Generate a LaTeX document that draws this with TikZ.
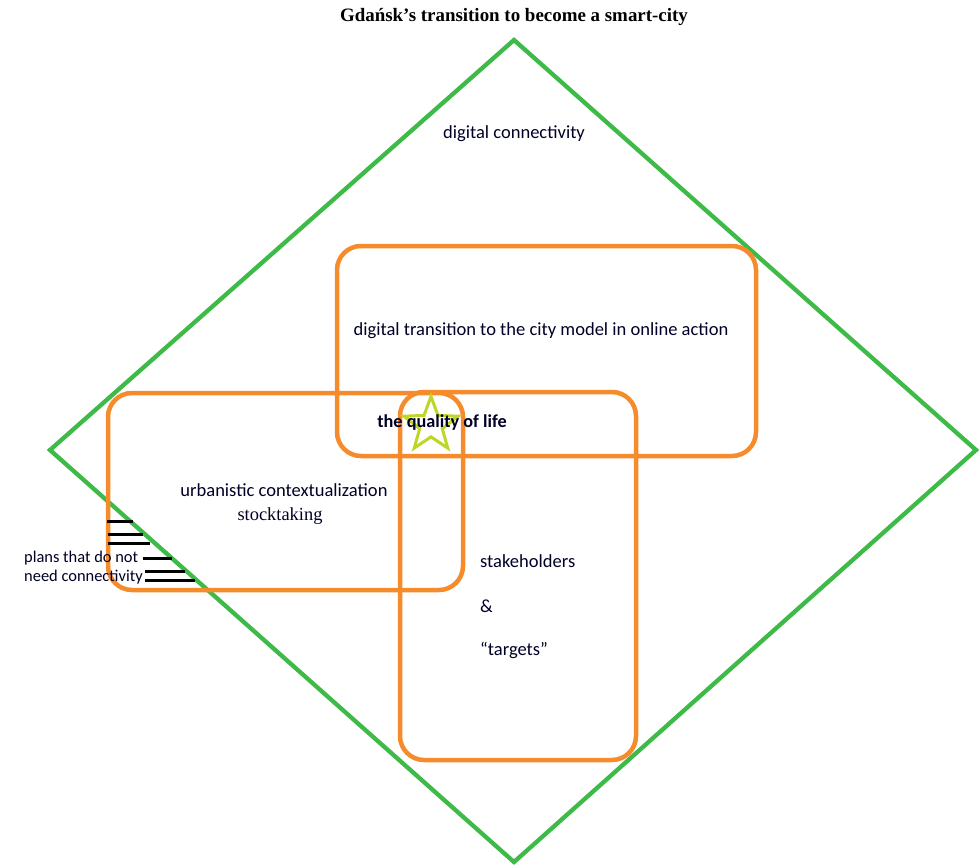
\documentclass[tikz,border=0pt]{standalone}
\usepackage{fontspec}
\setmainfont{Carlito}
\newfontfamily\titlefont{Liberation Serif}
\usetikzlibrary{shapes.geometric}
\definecolor{dgreen}{RGB}{62,186,72}
\definecolor{orng}{RGB}{246,139,44}
\definecolor{stary}{RGB}{190,214,40}
\tikzset{
  frame/.style={draw=orng,line width=4.5bp,rounded corners=24bp},
  diam/.style={draw=dgreen,line width=4.3bp},
  hatch/.style={draw=black,line width=3bp},
  lbl/.style={inner sep=0pt,font=\fontsize{18.6}{21}\selectfont,text=black!85!blue},
  small/.style={inner sep=0pt,font=\fontsize{16.5}{18}\selectfont,text=black!85!blue,anchor=west},
}
\begin{document}
\begin{tikzpicture}[x=1bp,y=-1bp]
\useasboundingbox (0,0) rectangle (980,865);
% diamond
\coordinate (dT) at (514,40);
\coordinate (dR) at (976,450);
\coordinate (dB) at (514,862);
\coordinate (dL) at (50,450);
\draw[diam] (dT) -- (dR) -- (dB) -- (dL) -- cycle;
% frames
\draw[frame] (337,246) rectangle (756,456);
\draw[frame] (108,393) rectangle (463,590);
\draw[frame] (400,392) rectangle (636,760);
% star
\node[star,star points=5,star point ratio=2.4,minimum size=57bp,draw=stary,line width=3bp,inner sep=0pt] (star) at (431,425) {};
% hatch lines
\draw[hatch] (107,521) -- (133,521);
\draw[hatch] (108,534) -- (143,534);
\draw[hatch] (108,543) -- (150,543);
\draw[hatch] (143,558) -- (172,558);
\draw[hatch] (145,571) -- (185,571);
\draw[hatch] (145,580) -- (195,580);
% texts
\node[inner sep=0pt,font=\titlefont\bfseries\fontsize{19}{22}\selectfont] (title) at (514,17) {Gdańsk’s transition to become a smart-city};
\node[lbl] (dc) at (514,134) {digital connectivity};
\node[lbl] (dt) at (541,331) {digital transition to the city model in online action};
\node[lbl,font=\bfseries\fontsize{18.3}{21}\selectfont] (ql) at (442,423) {the quality of life};
\node[lbl] (uc) at (284,490) {urbanistic contextualization};
\node[lbl,font=\titlefont\fontsize{18.5}{21}\selectfont] (st) at (280,516) {stocktaking};
\node[small] (p1) at (24,558) {plans that do not};
\node[small] (p2) at (24,577) {need connectivity};
\node[lbl,anchor=west] (sh) at (480,561) {stakeholders};
\node[lbl,anchor=west] (amp) at (480,606) {\&};
\node[lbl,anchor=west] (tg) at (480,650) {“targets”};
\end{tikzpicture}
\end{document}
